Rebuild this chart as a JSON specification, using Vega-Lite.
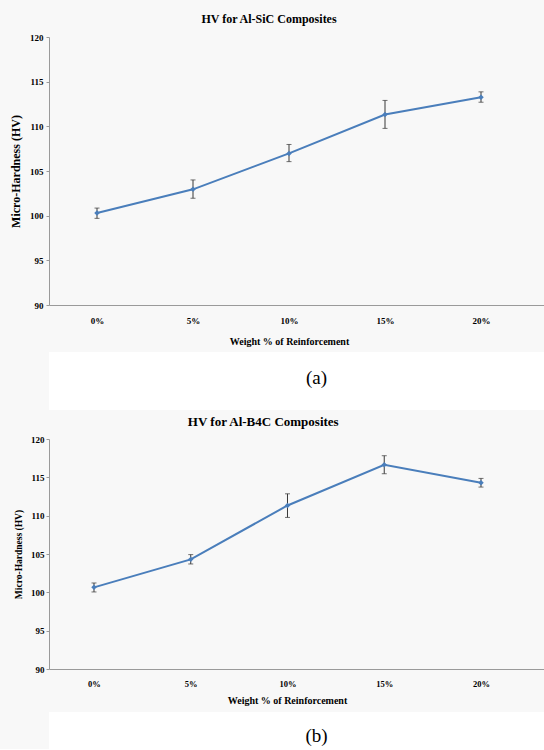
{
  "$schema": "https://vega.github.io/schema/vega-lite/v6.json",
  "background": "#f8f8f8",
  "padding": {"left": 9, "top": 13, "right": 0, "bottom": 0},
  "spacing": 6,
  "columns": 1,
  "align": "none",
  "config": {
    "view": {"stroke": null},
    "font": "Liberation Serif",
    "axis": {
      "labelFont": "Liberation Serif",
      "titleFont": "Liberation Serif",
      "labelFontWeight": "bold",
      "titleFontWeight": "bold",
      "labelColor": "#000000",
      "titleColor": "#000000",
      "domainColor": "#9a9a9a",
      "tickColor": "#9a9a9a",
      "grid": false,
      "labelOverlap": false
    },
    "title": {"font": "Liberation Serif", "fontWeight": "bold", "color": "#000000", "anchor": "middle"}
  },
  "datasets": {
    "sic": [
      {"w": "0%", "hv": 100.3, "lo": 99.7, "hi": 100.85},
      {"w": "5%", "hv": 102.95, "lo": 101.95, "hi": 104.0},
      {"w": "10%", "hv": 106.97, "lo": 106.05, "hi": 107.97},
      {"w": "15%", "hv": 111.33, "lo": 109.77, "hi": 112.9},
      {"w": "20%", "hv": 113.26, "lo": 112.7, "hi": 113.86}
    ],
    "b4c": [
      {"w": "0%", "hv": 100.65, "lo": 100.05, "hi": 101.22},
      {"w": "5%", "hv": 104.3, "lo": 103.7, "hi": 104.92},
      {"w": "10%", "hv": 111.33, "lo": 109.77, "hi": 112.85},
      {"w": "15%", "hv": 116.64, "lo": 115.47, "hi": 117.82},
      {"w": "20%", "hv": 114.29, "lo": 113.73, "hi": 114.86}
    ]
  },
  "concat": [
    {
      "width": 496,
      "height": 268,
      "title": {"text": "HV for Al-SiC Composites", "fontSize": 12, "offset": 7, "frame": "bounds", "dx": -8},
      "data": {"name": "sic"},
      "encoding": {
        "x": {
          "field": "w", "type": "ordinal", "sort": null,
          "scale": {"type": "point", "padding": 0.5833, "align": 0.4286},
          "axis": {"title": "Weight % of Reinforcement", "labelAngle": 0, "ticks": false, "labelFontSize": 9, "labelPadding": 11, "titleFontSize": 10, "titlePadding": 11, "titleX": 240}
        }
      },
      "layer": [
        {
          "mark": {"type": "line", "color": "#4a7ebb", "strokeWidth": 2},
          "encoding": {
            "y": {
              "field": "hv", "type": "quantitative", "title": "Micro-Hardness (HV)",
              "scale": {"domain": [90, 120], "nice": false, "zero": false},
              "axis": {"values": [90, 95, 100, 105, 110, 115, 120], "tickSize": 3, "labelFontSize": 9, "labelPadding": 3, "titleFontSize": 12, "titlePadding": 7.5}
            }
          }
        },
        {
          "mark": {"type": "rule", "color": "#383838", "strokeWidth": 1},
          "encoding": {
            "y": {"field": "lo", "type": "quantitative", "title": "Micro-Hardness (HV)",
              "axis": {"values": [90, 95, 100, 105, 110, 115, 120], "tickSize": 3, "labelFontSize": 9, "labelPadding": 3, "titleFontSize": 12, "titlePadding": 7.5}},
            "y2": {"field": "hi"}
          }
        },
        {
          "mark": {"type": "tick", "color": "#383838", "size": 5, "thickness": 1},
          "encoding": {"y": {"field": "lo", "type": "quantitative", "title": "Micro-Hardness (HV)",
            "axis": {"values": [90, 95, 100, 105, 110, 115, 120], "tickSize": 3, "labelFontSize": 9, "labelPadding": 3, "titleFontSize": 12, "titlePadding": 7.5}}}
        },
        {
          "mark": {"type": "tick", "color": "#383838", "size": 5, "thickness": 1},
          "encoding": {"y": {"field": "hi", "type": "quantitative", "title": "Micro-Hardness (HV)",
            "axis": {"values": [90, 95, 100, 105, 110, 115, 120], "tickSize": 3, "labelFontSize": 9, "labelPadding": 3, "titleFontSize": 12, "titlePadding": 7.5}}}
        },
        {
          "mark": {"type": "point", "shape": "diamond", "filled": true, "color": "#4a7ebb", "size": 30, "opacity": 1},
          "encoding": {"y": {"field": "hv", "type": "quantitative", "title": "Micro-Hardness (HV)",
            "axis": {"values": [90, 95, 100, 105, 110, 115, 120], "tickSize": 3, "labelFontSize": 9, "labelPadding": 3, "titleFontSize": 12, "titlePadding": 7.5}}}
        }
      ]
    },
    {
      "width": 535,
      "height": 58,
      "view": {"fill": "#ffffff"},
      "data": {"values": [{"caption": "(a)"}]},
      "mark": {"type": "text", "font": "Liberation Serif", "fontSize": 19, "dy": -3.5, "baseline": "middle", "color": "#000000"},
      "encoding": {"text": {"field": "caption"}}
    },
    {
      "width": 496,
      "height": 230,
      "title": {"text": "HV for Al-B4C Composites", "fontSize": 13, "offset": 6, "frame": "bounds", "dx": -16},
      "data": {"name": "b4c"},
      "encoding": {
        "x": {
          "field": "w", "type": "ordinal", "sort": null,
          "scale": {"type": "point", "padding": 0.5633, "align": 0.4128},
          "axis": {"title": "Weight % of Reinforcement", "labelAngle": 0, "ticks": false, "labelFontSize": 8.5, "labelPadding": 10, "titleFontSize": 10, "titlePadding": 8, "titleX": 238}
        }
      },
      "layer": [
        {
          "mark": {"type": "line", "color": "#4a7ebb", "strokeWidth": 2},
          "encoding": {
            "y": {
              "field": "hv", "type": "quantitative", "title": "Micro-Hardness (HV)",
              "scale": {"domain": [90, 120], "nice": false, "zero": false},
              "axis": {"values": [90, 95, 100, 105, 110, 115, 120], "tickSize": 3, "labelFontSize": 9, "labelPadding": 2, "titleFontSize": 9.5, "titlePadding": 7}
            }
          }
        },
        {
          "mark": {"type": "rule", "color": "#383838", "strokeWidth": 1},
          "encoding": {
            "y": {"field": "lo", "type": "quantitative", "title": "Micro-Hardness (HV)",
              "axis": {"values": [90, 95, 100, 105, 110, 115, 120], "tickSize": 3, "labelFontSize": 9, "labelPadding": 2, "titleFontSize": 9.5, "titlePadding": 7}},
            "y2": {"field": "hi"}
          }
        },
        {
          "mark": {"type": "tick", "color": "#383838", "size": 5, "thickness": 1},
          "encoding": {"y": {"field": "lo", "type": "quantitative", "title": "Micro-Hardness (HV)",
            "axis": {"values": [90, 95, 100, 105, 110, 115, 120], "tickSize": 3, "labelFontSize": 9, "labelPadding": 2, "titleFontSize": 9.5, "titlePadding": 7}}}
        },
        {
          "mark": {"type": "tick", "color": "#383838", "size": 5, "thickness": 1},
          "encoding": {"y": {"field": "hi", "type": "quantitative", "title": "Micro-Hardness (HV)",
            "axis": {"values": [90, 95, 100, 105, 110, 115, 120], "tickSize": 3, "labelFontSize": 9, "labelPadding": 2, "titleFontSize": 9.5, "titlePadding": 7}}}
        },
        {
          "mark": {"type": "point", "shape": "diamond", "filled": true, "color": "#4a7ebb", "size": 30, "opacity": 1},
          "encoding": {"y": {"field": "hv", "type": "quantitative", "title": "Micro-Hardness (HV)",
            "axis": {"values": [90, 95, 100, 105, 110, 115, 120], "tickSize": 3, "labelFontSize": 9, "labelPadding": 2, "titleFontSize": 9.5, "titlePadding": 7}}}
        }
      ]
    },
    {
      "width": 535,
      "height": 37,
      "view": {"fill": "#ffffff"},
      "data": {"values": [{"caption": "(b)"}]},
      "mark": {"type": "text", "font": "Liberation Serif", "fontSize": 19, "dy": 5.5, "baseline": "middle", "color": "#000000"},
      "encoding": {"text": {"field": "caption"}}
    }
  ]
}
